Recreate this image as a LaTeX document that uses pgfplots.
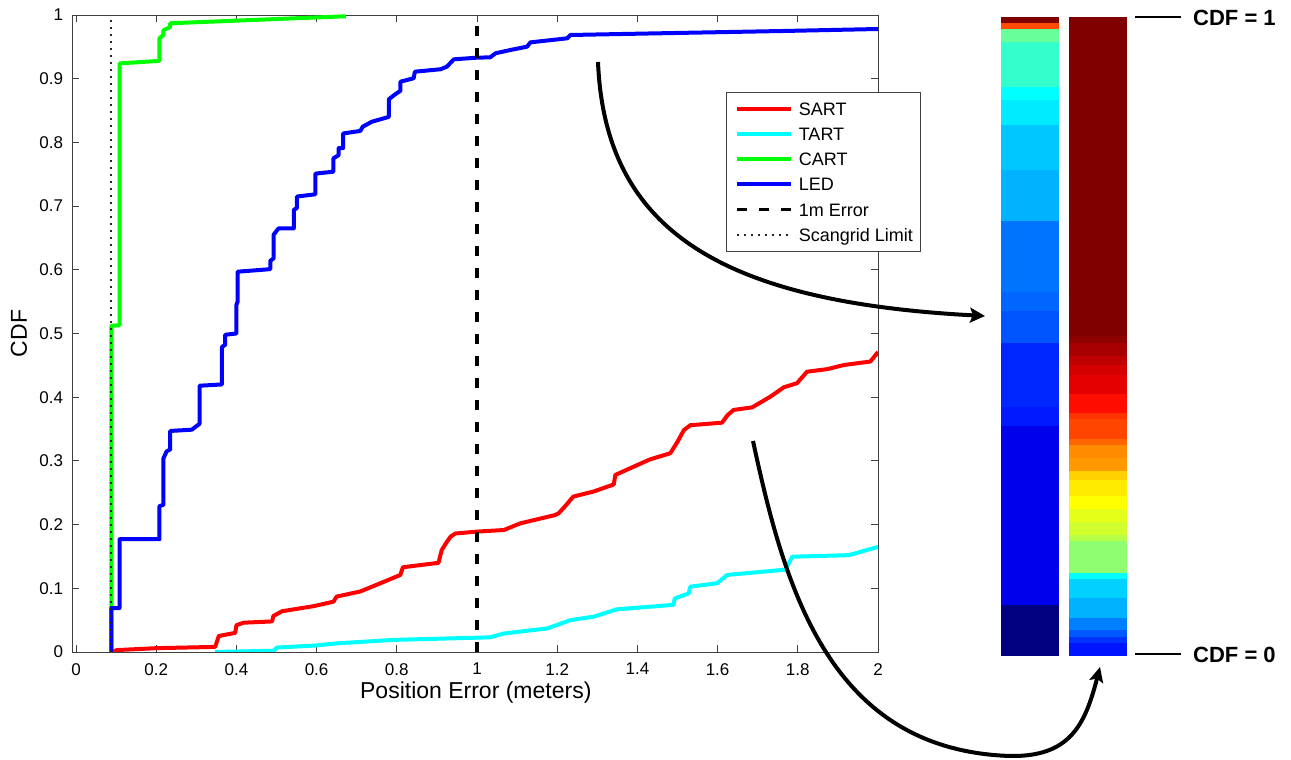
\documentclass[border=0pt]{standalone}
\usepackage{pgfplots}
\pgfplotsset{compat=1.18}
\usepackage{fontspec}
\setmainfont{Liberation Sans}
\usetikzlibrary{arrows.meta}

\definecolor{sartc}{rgb}{1,0,0}
\definecolor{tartc}{rgb}{0,1,1}
\definecolor{cartc}{rgb}{0,1,0}
\definecolor{ledc}{rgb}{0,0,1}

% one coloured level of a CDF bar: x-from, x-to, cdf-from, cdf-to, r, g, b
\newcommand{\band}[7]{%
  \addplot[draw=none, fill={rgb,1:red,#5;green,#6;blue,#7}]
    coordinates {(#1,#3) (#2,#3) (#2,#4) (#1,#4)} -- cycle;}

\begin{document}
\begin{tikzpicture}
\useasboundingbox (0,0) rectangle (1291pt,760pt);

\begin{axis}[
  at={(72pt,108pt)}, anchor=south west,
  scale only axis, width=806pt, height=637pt,
  xmin=-0.01, xmax=2, ymin=0, ymax=1,
  xtick={0,0.2,0.4,0.6,0.8,1,1.2,1.4,1.6,1.8,2},
  ytick={0,0.1,0.2,0.3,0.4,0.5,0.6,0.7,0.8,0.9,1},
  tick align=inside, major tick length=7pt,
  every tick/.style={black!75, line width=0.8pt},
  axis line style={black!75, line width=0.8pt},
  /pgf/number format/assume math mode=true,
  ticklabel style={font=\fontsize{17}{20}\selectfont},
  xticklabel style={anchor=north, inner sep=0pt, yshift=-11pt},
  yticklabel style={anchor=east, inner sep=0pt, xshift=-8.7pt},
  xlabel={Position Error (meters)}, ylabel={CDF},
  label style={font=\fontsize{23}{27}\selectfont},
  xlabel style={at={(axis description cs:0.501,-0.0727)}, anchor=base},
  ylabel style={at={(axis description cs:-0.0658,0.5)}, anchor=center},
  every axis plot/.append style={line join=round,
    legend image code/.code={\draw[##1] (0pt,0pt) -- (54pt,0pt);}},
  legend cell align=left,
  legend style={at={(axis cs:1.622,0.8787)}, anchor=north west,
    draw=black!75, line width=0.8pt, fill=white,
    inner xsep=8pt, inner ysep=9.4pt, row sep=12.3pt, column sep=6pt,
    font=\fontsize{18}{21}\selectfont,
    nodes={inner sep=0pt, text height=13pt, text depth=0pt}},
]

% SART
\addplot[sartc, line width=4pt] coordinates {
 (0.09,0) (0.102,0.003) (0.2,0.006) (0.347,0.008) (0.356,0.025) (0.38,0.028)
 (0.397,0.030) (0.40,0.042) (0.418,0.046) (0.489,0.048) (0.492,0.0565)
 (0.514,0.064) (0.593,0.072) (0.642,0.079) (0.65,0.087) (0.709,0.095)
 (0.738,0.1025) (0.767,0.110) (0.809,0.121) (0.815,0.133) (0.904,0.140)
 (0.912,0.16) (0.925,0.173) (0.934,0.181) (0.946,0.186) (1.0,0.189)
 (1.067,0.1915) (1.108,0.202) (1.195,0.215) (1.204,0.218) (1.22,0.229)
 (1.24,0.244) (1.291,0.252) (1.341,0.263) (1.345,0.278) (1.391,0.291)
 (1.432,0.3025) (1.482,0.312) (1.50,0.33) (1.516,0.3485) (1.532,0.356)
 (1.611,0.360) (1.625,0.372) (1.64,0.380) (1.686,0.384) (1.732,0.401)
 (1.765,0.4155) (1.798,0.422) (1.823,0.440) (1.873,0.444) (1.915,0.4505)
 (1.981,0.456) (2.0,0.471)};
\addlegendentry{SART}

% TART
\addplot[tartc, line width=4pt] coordinates {
 (0.347,0) (0.493,0.002) (0.501,0.007) (0.593,0.010) (0.651,0.0136)
 (0.792,0.019) (1.033,0.023) (1.067,0.029) (1.175,0.037) (1.233,0.050)
 (1.291,0.0555) (1.349,0.067) (1.49,0.074) (1.493,0.084) (1.528,0.092)
 (1.532,0.1025) (1.599,0.108) (1.624,0.121) (1.765,0.129) (1.769,0.1287)
 (1.786,0.1496) (1.927,0.152) (2.0,0.165)};
\addlegendentry{TART}

% CART
\addplot[cartc, line width=4pt] coordinates {
 (0.088,0) (0.088,0.512) (0.1085,0.513) (0.1085,0.924) (0.208,0.928)
 (0.208,0.9634) (0.218,0.9686) (0.218,0.976) (0.235,0.981) (0.235,0.987)
 (0.673,0.998)};
\addlegendentry{CART}

% LED
\addplot[ledc, line width=4pt] coordinates {
 (0.088,0) (0.088,0.069) (0.1085,0.069) (0.1085,0.177) (0.208,0.177)
 (0.208,0.229) (0.218,0.231) (0.218,0.304) (0.226,0.315) (0.235,0.318)
 (0.235,0.347) (0.289,0.349) (0.297,0.353) (0.308,0.358) (0.308,0.418)
 (0.364,0.420) (0.364,0.479) (0.372,0.482) (0.372,0.498) (0.40,0.500)
 (0.40,0.545) (0.403,0.55) (0.403,0.597) (0.4845,0.601) (0.4845,0.614)
 (0.4927,0.618) (0.4927,0.655) (0.505,0.665) (0.543,0.665) (0.543,0.694)
 (0.551,0.697) (0.551,0.715) (0.597,0.7185) (0.597,0.751) (0.642,0.754)
 (0.642,0.775) (0.655,0.78) (0.655,0.791) (0.666,0.791) (0.666,0.814)
 (0.709,0.818) (0.715,0.8246) (0.738,0.8325) (0.78,0.840) (0.78,0.8676)
 (0.796,0.8755) (0.809,0.881) (0.809,0.8953) (0.842,0.9006) (0.845,0.911)
 (0.909,0.9148) (0.925,0.9189) (0.942,0.9304) (1.0,0.933) (1.033,0.9335)
 (1.046,0.9399) (1.083,0.945) (1.125,0.9503) (1.133,0.957) (1.225,0.9634)
 (1.233,0.9686) (1.432,0.971) (1.765,0.9749) (2.0,0.978)};
\addlegendentry{LED}

% 1 m error threshold
\addplot[black, line width=3.3pt, dash pattern=on 10pt off 12pt]
  coordinates {(1,0) (1,1)};
\addlegendentry{1m Error}

% Scangrid resolution limit
\addplot[black!85, line width=1.8pt, dash pattern=on 2pt off 5pt]
  coordinates {(0.088,0) (0.088,1)};
\addlegendentry{Scangrid Limit}
\end{axis}

% CDF bars: LED (left) and SART (right), one colour per CDF level
\begin{axis}[
  at={(1001pt,104pt)}, anchor=south west,
  scale only axis, width=126.3pt, height=639.3pt,
  xmin=0, xmax=2.166, ymin=0, ymax=1,
  hide axis, clip=false]
% LED
\band{0}{1}{0.99}{1.00}{0.5}{0}{0}
\band{0}{1}{0.98}{0.99}{1}{0.3}{0}
\band{0}{1}{0.96}{0.98}{0.4}{1}{0.6}
\band{0}{1}{0.89}{0.96}{0.2}{1}{0.8}
\band{0}{1}{0.87}{0.89}{0}{1}{1}
\band{0}{1}{0.83}{0.87}{0}{0.92}{1}
\band{0}{1}{0.76}{0.83}{0}{0.78}{1}
\band{0}{1}{0.68}{0.76}{0}{0.7}{1}
\band{0}{1}{0.57}{0.68}{0}{0.45}{1}
\band{0}{1}{0.54}{0.57}{0}{0.4}{1}
\band{0}{1}{0.49}{0.54}{0}{0.33}{1}
\band{0}{1}{0.39}{0.49}{0}{0.15}{1}
\band{0}{1}{0.36}{0.39}{0}{0.1}{1}
\band{0}{1}{0.08}{0.36}{0}{0}{0.92}
\band{0}{1}{0.00}{0.08}{0}{0}{0.5}
% SART
\band{1.171}{2.166}{0.50}{1.00}{0.5}{0}{0}
\band{1.171}{2.166}{0.49}{0.50}{0.56}{0}{0}
\band{1.171}{2.166}{0.47}{0.49}{0.66}{0}{0}
\band{1.171}{2.166}{0.455}{0.47}{0.75}{0}{0}
\band{1.171}{2.166}{0.44}{0.455}{0.83}{0}{0}
\band{1.171}{2.166}{0.41}{0.44}{0.9}{0}{0}
\band{1.171}{2.166}{0.38}{0.41}{1}{0.05}{0}
\band{1.171}{2.166}{0.37}{0.38}{1}{0.2}{0}
\band{1.171}{2.166}{0.34}{0.37}{1}{0.27}{0}
\band{1.171}{2.166}{0.33}{0.34}{1}{0.4}{0}
\band{1.171}{2.166}{0.31}{0.33}{1}{0.55}{0}
\band{1.171}{2.166}{0.29}{0.31}{1}{0.6}{0}
\band{1.171}{2.166}{0.275}{0.29}{1}{0.82}{0}
\band{1.171}{2.166}{0.25}{0.275}{1}{0.92}{0}
\band{1.171}{2.166}{0.23}{0.25}{1}{1}{0}
\band{1.171}{2.166}{0.21}{0.23}{0.9}{1}{0.1}
\band{1.171}{2.166}{0.19}{0.21}{0.82}{1}{0.18}
\band{1.171}{2.166}{0.18}{0.19}{0.72}{1}{0.28}
\band{1.171}{2.166}{0.13}{0.18}{0.56}{1}{0.44}
\band{1.171}{2.166}{0.12}{0.13}{0}{1}{1}
\band{1.171}{2.166}{0.09}{0.12}{0}{0.82}{1}
\band{1.171}{2.166}{0.06}{0.09}{0}{0.7}{1}
\band{1.171}{2.166}{0.04}{0.06}{0}{0.5}{1}
\band{1.171}{2.166}{0.03}{0.04}{0}{0.35}{1}
\band{1.171}{2.166}{0.02}{0.03}{0}{0.2}{1}
\band{1.171}{2.166}{0.00}{0.02}{0}{0.08}{1}
\end{axis}

% bar end labels
\draw[line width=2.2pt] (1135pt,743.3pt) -- (1181pt,743.3pt);
\draw[line width=2.2pt] (1135pt,106pt) -- (1181pt,106pt);
\node[anchor=west, inner sep=0pt, font=\bfseries\fontsize{22}{26}\selectfont]
  at (1193pt,742pt) {CDF = 1};
\node[anchor=west, inner sep=0pt, font=\bfseries\fontsize{22}{26}\selectfont]
  at (1193pt,105pt) {CDF = 0};

% curves to their bars
\draw[line width=4pt, -{Stealth[length=15pt, width=15pt, inset=3pt]}]
  (598pt,698pt) .. controls (605pt,530pt) and (720pt,458pt) .. (985pt,444pt);
\draw[line width=4pt, -{Stealth[length=15pt, width=14pt, inset=3pt]}]
  (753pt,319pt) .. controls (785pt,170pt) and (830pt,10pt) .. (1010pt,4pt)
  .. controls (1070pt,3pt) and (1085pt,35pt) .. (1100pt,93pt);
\end{tikzpicture}
\end{document}
